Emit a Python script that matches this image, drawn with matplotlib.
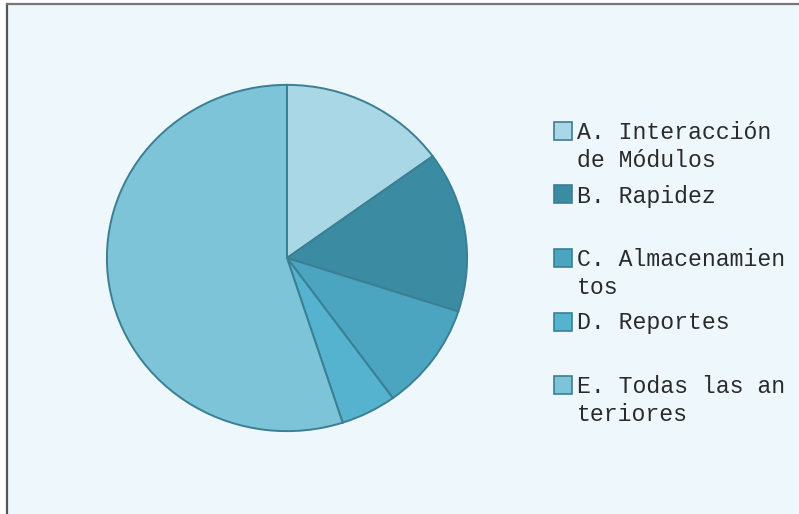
import matplotlib.pyplot as plt
from matplotlib.patches import Rectangle

labels = ["A. Interacción\nde Módulos", "B. Rapidez", "C. Almacenamien\ntos",
          "D. Reportes", "E. Todas las an\nteriores"]
values = [15, 15, 10, 5, 55]
colors = ["#a9d7e5", "#3b8ba3", "#4ba5c1", "#56b3cf", "#7dc4d9"]
edge = "#3b7f92"
bg = "#eef7fb"

fig = plt.figure(figsize=(7.99, 5.14), dpi=100)
fig.patch.set_facecolor("white")

# panel background with the dark frame on top/left
W, H = 799, 514
fig.patches.append(Rectangle((7 / W, 0), 1, 1 - 4 / H, transform=fig.transFigure,
                             facecolor=bg, edgecolor="none", zorder=-10))
fig.add_artist(plt.Line2D([7 / W, 7 / W], [0, 1 - 4 / H], color="#555555", lw=1.6,
                          transform=fig.transFigure))
fig.add_artist(plt.Line2D([7 / W, 1], [1 - 4 / H, 1 - 4 / H], color="#777777", lw=1.6,
                          transform=fig.transFigure))

# pie area: center ~(287,258), radii ~181 x 174 px
cx, cy, rx, ry = 287, 258, 181, 174
ax = fig.add_axes([(cx - rx) / W, 1 - (cy + ry) / H, 2 * rx / W, 2 * ry / H], zorder=5)
ax.pie(values, colors=colors, startangle=90, counterclock=False,
       wedgeprops=dict(edgecolor=edge, linewidth=1.4))
ax.set_aspect("auto")
ax.set_xlim(-1.005, 1.005)
ax.set_ylim(-1.005, 1.005)
ax.axis("off")

# legend entries, one slot per category
font = dict(family="Liberation Mono", size=16.7, color="#2a2a2a")
for i, (lab, col) in enumerate(zip(labels, colors)):
    ytop = 122 + i * 63.5
    fig.patches.append(Rectangle((554 / W, 1 - (ytop + 18) / H), 18 / W, 18 / H,
                                 transform=fig.transFigure, facecolor=col,
                                 edgecolor=edge, linewidth=1.2, zorder=2))
    fig.text(577 / W, 1 - (ytop - 1) / H, lab, ha="left", va="top",
             linespacing=1.3, **font)

fig.savefig("out.png", dpi=100, facecolor=fig.get_facecolor())
